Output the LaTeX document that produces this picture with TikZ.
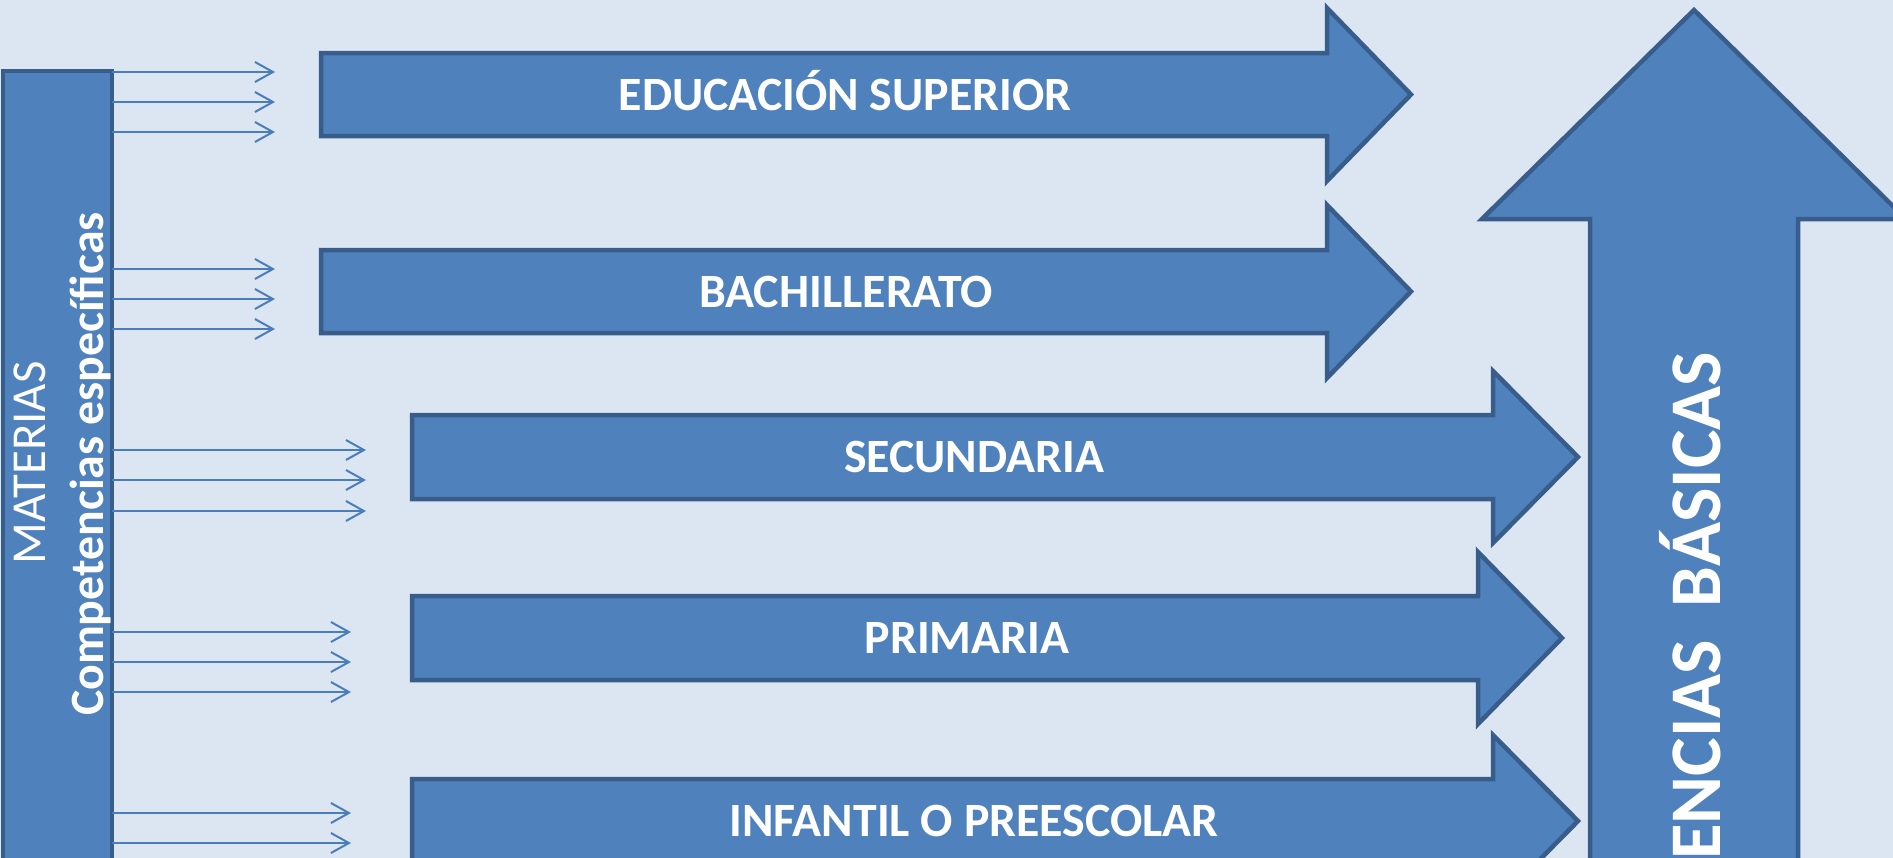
\documentclass[tikz,border=0pt]{standalone}
\usepackage{fontspec}
\setmainfont{Carlito}
\usetikzlibrary{arrows.meta}
\definecolor{bgblue}{HTML}{DCE6F2}
\definecolor{fillblue}{HTML}{4F81BD}
\definecolor{edgeblue}{HTML}{385D8A}
\definecolor{lineblue}{HTML}{4A7EBB}

\begin{document}
\begin{tikzpicture}[x=1bp,y=-1bp,
  blockarrow/.style={fill=fillblue, draw=edgeblue, line width=4.5bp, line join=miter},
  conn/.style={draw=lineblue, line width=2bp, -{Straight Barb[length=18bp,width=20bp]}},
  lbl/.style={text=white, font=\fontsize{48}{54}\selectfont\bfseries, inner sep=0pt, anchor=base}]
\useasboundingbox (0,0) rectangle (1893,858);
\fill[bgblue] (0,0) rectangle (1893,858);
\clip (0,0) rectangle (1893,858);

% Vertical bar (materias)
\node[blockarrow, minimum width=109bp, minimum height=830bp, anchor=north west, inner sep=0pt, outer sep=0pt] (bar) at (3,71) {};
\node[lbl, font=\fontsize{49}{54}\selectfont, rotate=90] (materias) at (45,463) {MATERIAS};
\node[lbl, font=\fontsize{48}{54}\selectfont\bfseries, rotate=90] (compesp) at (103,464) {Competencias específicas};

% Level arrows
\draw[blockarrow] (321,53) -- (1327,53) -- (1327,8) -- (1411,94.5) -- (1327,181) -- (1327,136) -- (321,136) -- cycle;
\draw[blockarrow] (321,250) -- (1327,250) -- (1327,205) -- (1411,291.5) -- (1327,378) -- (1327,333) -- (321,333) -- cycle;
\draw[blockarrow] (412,415) -- (1493,415) -- (1493,371) -- (1578,457) -- (1493,543) -- (1493,499) -- (412,499) -- cycle;
\draw[blockarrow] (412,596) -- (1478,596) -- (1478,552) -- (1562,638) -- (1478,724) -- (1478,680) -- (412,680) -- cycle;
\draw[blockarrow] (412,779) -- (1493,779) -- (1493,735) -- (1578,821) -- (1493,907) -- (1493,863) -- (412,863) -- cycle;
\node[lbl] (edsup) at (845,110) {EDUCACIÓN SUPERIOR};
\node[lbl] (bach) at (846,307) {BACHILLERATO};
\node[lbl] (secun) at (974,472.5) {SECUNDARIA};
\node[lbl] (prim) at (967,653.5) {PRIMARIA};
\node[lbl] (infant) at (974,836.5) {INFANTIL O PREESCOLAR};

% Up arrow (competencias basicas)
\draw[blockarrow] (1694,10) -- (1906,219) -- (1798,219) -- (1798,900) -- (1590,900) -- (1590,219) -- (1482,219) -- cycle;
\node[lbl, font=\fontsize{73}{80}\selectfont\bfseries, rotate=90, anchor=base east] (basicas) at (1720,352) {COMPETENCIAS\ \ BÁSICAS};

% Connectors from the bar
\coordinate (e1a) at (275,72);  \coordinate (e1b) at (275,102); \coordinate (e1c) at (275,132);
\coordinate (e2a) at (275,269); \coordinate (e2b) at (275,299); \coordinate (e2c) at (275,329);
\coordinate (e3a) at (366,450); \coordinate (e3b) at (366,480); \coordinate (e3c) at (366,511);
\coordinate (e4a) at (351,632); \coordinate (e4b) at (351,662); \coordinate (e4c) at (351,692);
\coordinate (e5a) at (351,813); \coordinate (e5b) at (351,843); \coordinate (e5c) at (351,873);
\draw[conn] (bar.east |- e1a) -- (e1a);
\draw[conn] (bar.east |- e1b) -- (e1b);
\draw[conn] (bar.east |- e1c) -- (e1c);
\draw[conn] (bar.east |- e2a) -- (e2a);
\draw[conn] (bar.east |- e2b) -- (e2b);
\draw[conn] (bar.east |- e2c) -- (e2c);
\draw[conn] (bar.east |- e3a) -- (e3a);
\draw[conn] (bar.east |- e3b) -- (e3b);
\draw[conn] (bar.east |- e3c) -- (e3c);
\draw[conn] (bar.east |- e4a) -- (e4a);
\draw[conn] (bar.east |- e4b) -- (e4b);
\draw[conn] (bar.east |- e4c) -- (e4c);
\draw[conn] (bar.east |- e5a) -- (e5a);
\draw[conn] (bar.east |- e5b) -- (e5b);
\draw[conn] (bar.east |- e5c) -- (e5c);
\end{tikzpicture}
\end{document}
